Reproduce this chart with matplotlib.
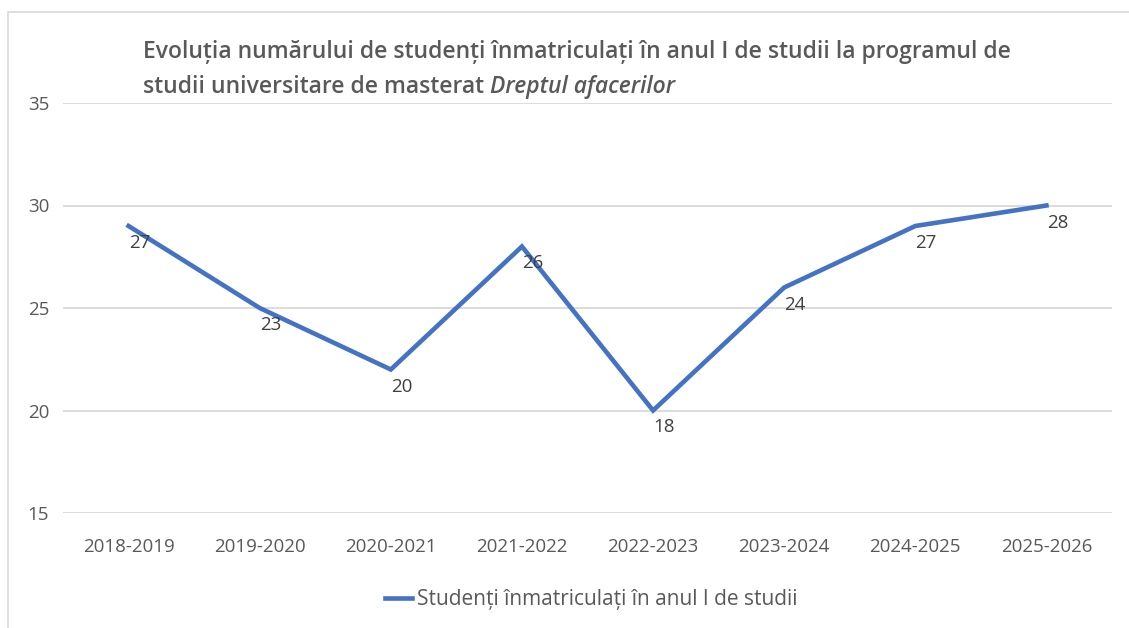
import matplotlib.pyplot as plt
from matplotlib.patches import Rectangle

# data
years = ['2018-2019', '2019-2020', '2020-2021', '2021-2022',
         '2022-2023', '2023-2024', '2024-2025', '2025-2026']
line_values = [29, 25, 22, 28, 20, 26, 29, 30]      # where the line is drawn
label_values = [27, 23, 20, 26, 18, 24, 27, 28]     # numbers printed as data labels
y_ticks = [15, 20, 25, 30, 35]

series_name = 'Studenți înmatriculați în anul I de studii'
title_line1 = 'Evoluția numărului de studenți înmatriculați în anul I de studii la programul de'
title_line2 = 'studii universitare de masterat '
title_italic = 'Dreptul afacerilor'

plt.rcParams['font.family'] = ['Open Sans', 'DejaVu Sans']

W, H = 1129, 628
fig = plt.figure(figsize=(W / 100, H / 100), dpi=100)
fig.patch.set_facecolor('white')

# chart area border
fig.patches.append(Rectangle((8 / W, -0.05), 1.2, 1 - 12 / H + 0.05,
                             transform=fig.transFigure, fill=False,
                             edgecolor='#d9d9d9', linewidth=1.2))

ax = fig.add_axes([63 / W, 1 - 513 / H, (1112 - 63) / W, (513 - 103) / H])
x = list(range(len(years)))
ax.plot(x, line_values, color='#4472C4', linewidth=3.3, solid_joinstyle='miter',
        label=series_name)

for xi, yv, lab in zip(x, line_values, label_values):
    ax.annotate(str(lab), (xi, yv), xytext=(11, -17), textcoords='offset pixels',
                ha='center', va='center', fontsize=13.5, color='#404040')

ax.set_xlim(-0.5, len(years) - 0.5)
ax.set_ylim(15, 35)
ax.set_yticks(y_ticks)
ax.set_xticks(x)
ax.set_xticklabels(years)
ax.grid(axis='y', color='#d9d9d9', linewidth=1.3)
ax.set_axisbelow(True)
for s in ax.spines.values():
    s.set_visible(False)
ax.tick_params(axis='both', length=0, labelsize=13.5, labelcolor='#595959')
ax.tick_params(axis='x', pad=18)
ax.tick_params(axis='y', pad=10)

# title, with the programme name in italics
t1 = fig.text(143 / W, 1 - 52 / H, title_line1, ha='left', va='center',
              fontsize=16.5, color='#595959', fontweight='semibold')
t2 = fig.text(143 / W, 1 - 87 / H, title_line2, ha='left', va='center',
              fontsize=16.5, color='#595959', fontweight='semibold')
ax.annotate(title_italic, xy=(1, 0.5), xycoords=t2, ha='left', va='center',
            fontsize=16.5, color='#595959', fontweight='semibold', style='italic')

ax.legend(loc='center', bbox_to_anchor=(591 / W, 1 - 600 / H),
          bbox_transform=fig.transFigure, frameon=False, fontsize=15,
          labelcolor='#595959', handlelength=1.3, handletextpad=0.25)

fig.savefig('out.png', dpi=100)
